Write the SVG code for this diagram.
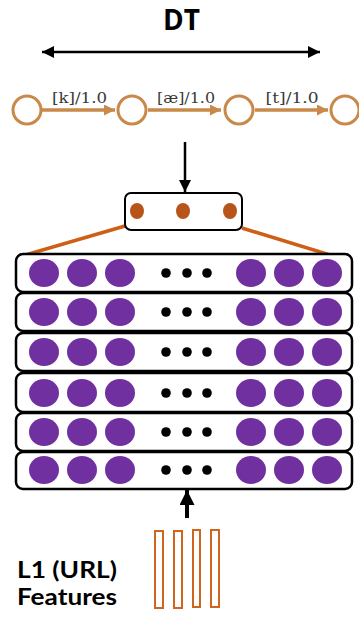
<svg xmlns="http://www.w3.org/2000/svg" width="359" height="617" viewBox="0 0 359 617">
<defs>
<style>
.title{font-family:"Open Sans","Liberation Sans",sans-serif;font-weight:bold;fill:#000}
.ft{font-family:Lato,"Liberation Sans",sans-serif;font-weight:bold;fill:#000}
.lbl{font-family:"DejaVu Serif","Liberation Serif",serif;font-size:15px;fill:#3a3a3a}
.st{fill:#fff;stroke:#c8894a;stroke-width:3}
.fa{stroke:#c8894a;stroke-width:3.5;fill:none}
.row{fill:#fff;stroke:#000;stroke-width:2.5}
.pu{fill:#7030a0}
.dot{fill:#000}
.bar{fill:#fff;stroke:#d0661e;stroke-width:2}
</style>
<marker id="ah" markerWidth="12" markerHeight="12" refX="10" refY="5" orient="auto" markerUnits="userSpaceOnUse" viewBox="0 0 10 10"><path d="M0,0 L10,5 L0,10 z" fill="#000"/></marker>
<marker id="ahb" markerWidth="15" markerHeight="15" refX="10" refY="5" orient="auto" markerUnits="userSpaceOnUse" viewBox="0 0 10 10"><path d="M0,0 L10,5 L0,10 z" fill="#000"/></marker>
<marker id="ahs" markerWidth="12" markerHeight="12" refX="0" refY="5" orient="auto" markerUnits="userSpaceOnUse" viewBox="0 0 10 10"><path d="M10,0 L0,5 L10,10 z" fill="#000"/></marker>
<marker id="oa" markerWidth="12" markerHeight="11" refX="10" refY="5" orient="auto" markerUnits="userSpaceOnUse" viewBox="0 0 10 10"><path d="M0,0 L10,5 L0,10 z" fill="#c8894a"/></marker>
<g id="nrow">
<ellipse cx="44" cy="0" rx="15" ry="14" class="pu"/>
<ellipse cx="82" cy="0" rx="15" ry="14" class="pu"/>
<ellipse cx="120" cy="0" rx="15" ry="14" class="pu"/>
<circle cx="166" cy="0" r="4.8" class="dot"/>
<circle cx="187" cy="0" r="4.8" class="dot"/>
<circle cx="207" cy="0" r="4.8" class="dot"/>
<ellipse cx="251" cy="0" rx="15" ry="14" class="pu"/>
<ellipse cx="289" cy="0" rx="15" ry="14" class="pu"/>
<ellipse cx="327" cy="0" rx="15" ry="14" class="pu"/>
</g>
</defs>
<rect width="359" height="617" fill="#fff"/>

<g id="title"><text class="title" x="181.5" y="30" font-size="28" text-anchor="middle">DT</text></g>

<g id="connectors">
<line x1="42" y1="52" x2="320" y2="52" stroke="#000" stroke-width="2.5" marker-start="url(#ahs)" marker-end="url(#ah)"/>
<line x1="42" y1="110" x2="115" y2="110" class="fa" marker-end="url(#oa)"/>
<line x1="148" y1="110" x2="221" y2="110" class="fa" marker-end="url(#oa)"/>
<line x1="255" y1="110" x2="328" y2="110" class="fa" marker-end="url(#oa)"/>
<line x1="185" y1="142" x2="185" y2="192" stroke="#000" stroke-width="2.5" marker-end="url(#ah)"/>
<line x1="125" y1="226" x2="22" y2="256" stroke="#cd5f16" stroke-width="3.5"/>
<line x1="242" y1="228" x2="330" y2="255" stroke="#cd5f16" stroke-width="3.5"/>
<line x1="187" y1="518" x2="187" y2="490" stroke="#000" stroke-width="4" marker-end="url(#ahb)"/>
</g>

<g id="fst">
<circle cx="27" cy="110" r="14" class="st"/>
<circle cx="132" cy="110" r="14" class="st"/>
<circle cx="239" cy="110" r="14" class="st"/>
<circle cx="345" cy="110" r="14" class="st"/>
<text class="lbl" x="79.5" y="103" text-anchor="middle" textLength="55" lengthAdjust="spacingAndGlyphs">[k]/1.0</text>
<text class="lbl" x="186" y="103" text-anchor="middle" textLength="58" lengthAdjust="spacingAndGlyphs">[æ]/1.0</text>
<text class="lbl" x="292" y="103" text-anchor="middle" textLength="53" lengthAdjust="spacingAndGlyphs">[t]/1.0</text>
</g>

<g id="pool">
<rect x="125" y="193" width="117" height="37" rx="6" fill="#fff" stroke="#000" stroke-width="2"/>
<ellipse cx="137" cy="211" rx="7" ry="8" fill="#b8531a"/>
<ellipse cx="183" cy="211" rx="7" ry="8" fill="#b8531a"/>
<ellipse cx="230" cy="211" rx="7" ry="8" fill="#b8531a"/>
</g>

<g id="layer6"><rect x="16" y="452" width="336" height="37" rx="7" class="row"/><use href="#nrow" y="470"/></g>
<g id="layer5"><rect x="16" y="413" width="336" height="38" rx="7" class="row"/><use href="#nrow" y="432"/></g>
<g id="layer4"><rect x="16" y="373" width="336" height="39" rx="7" class="row"/><use href="#nrow" y="393"/></g>
<g id="layer3"><rect x="16" y="333" width="336" height="38" rx="7" class="row"/><use href="#nrow" y="352"/></g>
<g id="layer2"><rect x="16" y="293" width="336" height="38" rx="7" class="row"/><use href="#nrow" y="312"/></g>
<g id="layer1"><rect x="16" y="254" width="336" height="38" rx="7" class="row"/><use href="#nrow" y="273"/></g>

<g id="features">
<rect x="155" y="531" width="8" height="77" class="bar"/>
<rect x="174" y="531" width="8" height="77" class="bar"/>
<rect x="193" y="530" width="7" height="77" class="bar"/>
<rect x="211" y="530" width="8" height="77" class="bar"/>
<text class="ft" x="17" y="578" font-size="22" textLength="100" lengthAdjust="spacingAndGlyphs">L1 (URL)</text>
<text class="ft" x="17" y="605" font-size="22" textLength="100" lengthAdjust="spacingAndGlyphs">Features</text>
</g>
</svg>
